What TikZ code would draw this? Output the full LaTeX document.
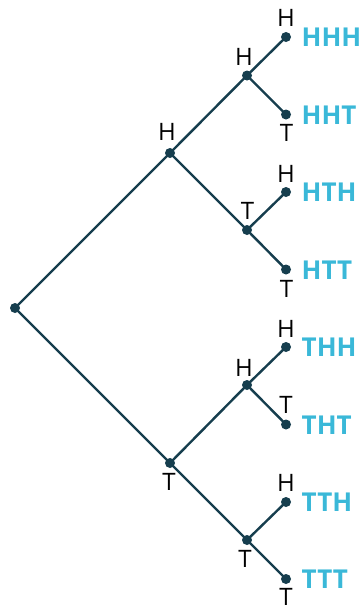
\documentclass[tikz,border=0pt]{standalone}
\usepackage{fontspec}
\setmainfont{Open Sans}
\definecolor{linec}{RGB}{22,62,78}
\definecolor{labc}{RGB}{58,184,216}
\begin{document}
\begin{tikzpicture}[x=1pt,y=-1pt,
  dot/.style={circle,fill=linec,inner sep=0pt,minimum size=10pt},
  edge/.style={draw=linec,line width=2.4pt},
  lbl/.style={inner sep=0pt,font=\fontsize{24}{24}\selectfont,text=black},
  res/.style={inner sep=0pt,anchor=base west,font=\fontsize{26}{26}\selectfont\bfseries,text=labc}]
\useasboundingbox (0,0) rectangle (361,608);
\node[dot] (r) at (15,308) {};
\node[dot] (h) at (170,153) {};
\node[dot] (t) at (170,463) {};
\node[dot] (hh) at (247,75.5) {};
\node[dot] (ht) at (247,230) {};
\node[dot] (th) at (247,385) {};
\node[dot] (tt) at (247,540) {};
\node[dot] (hhh) at (286,37) {};
\node[dot] (hht) at (286,114.5) {};
\node[dot] (hth) at (286,192) {};
\node[dot] (htt) at (286,269.5) {};
\node[dot] (thh) at (286,347) {};
\node[dot] (tht) at (286,424.5) {};
\node[dot] (tth) at (286,502) {};
\node[dot] (ttt) at (286,579) {};
\path[edge] (r.center) -- (h.center) (r.center) -- (t.center)
  (h.center) -- (hh.center) (h.center) -- (ht.center)
  (t.center) -- (th.center) (t.center) -- (tt.center)
  (hh.center) -- (hhh.center) (hh.center) -- (hht.center)
  (ht.center) -- (hth.center) (ht.center) -- (htt.center)
  (th.center) -- (thh.center) (th.center) -- (tht.center)
  (tt.center) -- (tth.center) (tt.center) -- (ttt.center);
% branch labels
\node[lbl] (lh) at (167,132) {H};
\node[lbl] (lt) at (169,482) {T};
\node[lbl] (lhh) at (244,57) {H};
\node[lbl] (lht) at (247.5,211) {T};
\node[lbl] (lth) at (244,368) {H};
\node[lbl] (ltt) at (245,559) {T};
\node[lbl] (lhhh) at (286,18) {H};
\node[lbl] (lhht) at (286.5,133) {T};
\node[lbl] (lhth) at (286,173.5) {H};
\node[lbl] (lhtt) at (286.5,288.5) {T};
\node[lbl] (lthh) at (286,328.5) {H};
\node[lbl] (ltht) at (286,405) {T};
\node[lbl] (ltth) at (286,483) {H};
\node[lbl] (lttt) at (286,596.5) {T};
% outcomes
\node[res] (ohhh) at (301.5,46.5) {HHH};
\node[res] (ohht) at (301.5,124) {HHT};
\node[res] (ohth) at (301.5,201.5) {HTH};
\node[res] (ohtt) at (301.5,279) {HTT};
\node[res] (othh) at (301.5,356.5) {THH};
\node[res] (otht) at (301.5,434) {THT};
\node[res] (otth) at (301.5,511.5) {TTH};
\node[res] (ottt) at (301.5,588.5) {TTT};
\end{tikzpicture}
\end{document}
